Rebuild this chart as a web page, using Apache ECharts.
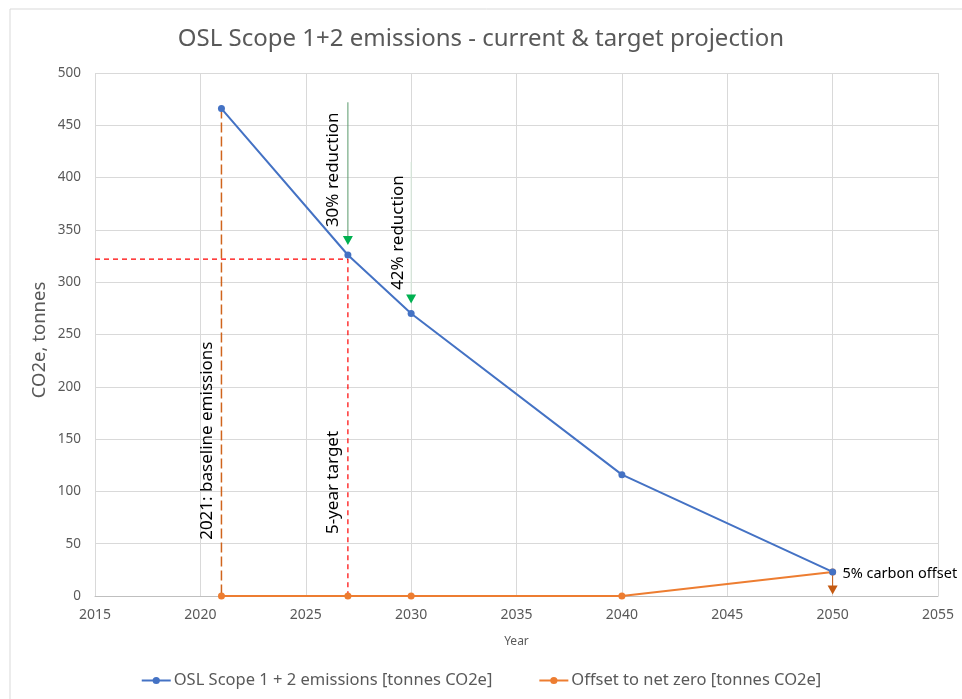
<!DOCTYPE html>
<html><head><meta charset="utf-8">
<script src="https://cdn.jsdelivr.net/npm/echarts@6/dist/echarts.min.js"></script>
<style>html,body{margin:0;padding:0;background:#fff}#c{width:962px;height:699px}</style>
</head><body><div id="c"></div>
<script>
const years = [2021, 2027, 2030, 2040, 2050];
const emissions = [466, 326, 270, 116, 23];
const offsetNetZero = [0, 0, 0, 0, 23];
const xTicks = [2015, 2020, 2025, 2030, 2035, 2040, 2045, 2050, 2055];
const yTicks = [0, 50, 100, 150, 200, 250, 300, 350, 400, 450, 500];
const baselineYear = 2021, baselineValue = 466;
const targetYear = 2027, targetValue = 322;

const F = "'Noto Sans', sans-serif";
const chart = echarts.init(document.getElementById('c'));
const txt = (coord, text, extra) => ({
  coord, symbolSize: 1, itemStyle: {color: 'rgba(0,0,0,0)'},
  label: Object.assign({show: true, formatter: text, color: '#000', fontFamily: F, fontSize: 17,
    position: 'inside', rotate: 90}, extra || {})
});
const head = (coord, color) => ({coord, symbol: 'triangle', symbolRotate: 180, symbolSize: [10, 9],
  symbolOffset: [0, -4], itemStyle: {color}, label: {show: false}});
const guide = (pts, lineStyle) => ({type: 'line', data: pts, symbol: 'none', silent: true, z: 1,
  lineStyle, tooltip: {show: false}});
chart.setOption({
  animation: false,
  textStyle: {fontFamily: F},
  title: {text: 'OSL Scope 1+2 emissions - current & target projection', left: 'center', top: 22,
    textStyle: {fontFamily: F, fontSize: 24, fontWeight: 'normal', color: '#595959'}},
  grid: {left: 95, right: 24, top: 73, bottom: 103, containLabel: false},
  xAxis: {type: 'value', min: xTicks[0], max: xTicks[xTicks.length-1], interval: 5,
    name: 'Year', nameLocation: 'middle', nameGap: 40, nameTextStyle: {fontSize: 12, color: '#595959', fontFamily: F},
    axisLine: {show: true, lineStyle: {color: '#bfbfbf'}}, axisTick: {show: false},
    axisLabel: {color: '#595959', fontSize: 14, margin: 12, fontFamily: F, formatter: v => String(v)},
    splitLine: {show: true, lineStyle: {color: '#d9d9d9'}}},
  yAxis: {type: 'value', min: yTicks[0], max: yTicks[yTicks.length-1], interval: 50,
    axisLine: {show: false}, axisTick: {show: false},
    axisLabel: {color: '#595959', fontSize: 13.5, margin: 14, fontFamily: F, formatter: v => String(v)},
    splitLine: {show: true, lineStyle: {color: '#d9d9d9'}}},
  legend: {bottom: 5, left: 'center', itemGap: 46, itemWidth: 29, itemHeight: 9,
    textStyle: {color: '#595959', fontSize: 16.5, fontFamily: F, padding: [0, 0, 0, -2]},
    data: ['OSL Scope 1 + 2 emissions [tonnes CO2e]', 'Offset to net zero [tonnes CO2e]']},
  graphic: [
    {type: 'rect', shape: {x: 10, y: 9, width: 960, height: 700}, style: {fill: 'none', stroke: '#d9d9d9', lineWidth: 1}, silent: true},
    {type: 'text', x: 40, y: 340, rotation: Math.PI/2, style: {text: 'CO2e, tonnes', fill: '#595959', font: '18.5px ' + F, align: 'center', verticalAlign: 'middle'}}
  ],
  series: [
    {name: 'OSL Scope 1 + 2 emissions [tonnes CO2e]', type: 'line', z: 3,
      data: years.map((y, i) => [y, emissions[i]]),
      symbol: 'circle', symbolSize: 7, lineStyle: {color: '#4472c4', width: 2}, itemStyle: {color: '#4472c4'},
      markPoint: {silent: true, animation: false, data: [
        head([targetYear, 336], '#00b050'),
        head([2030, 280], '#00b050'),
        head([2050, 2], '#c55a11'),
        txt([2026.29, 407], '30% reduction'),
        txt([2029.38, 347], '42% reduction'),
        txt([2020.31, 148], '2021: baseline emissions'),
        txt([2026.29, 108], '5-year target'),
        txt([2050.45, 21], '5% carbon offset', {rotate: 0, position: 'right', fontSize: 14.5, distance: 0})
      ]}
    },
    {name: 'Offset to net zero [tonnes CO2e]', type: 'line', z: 2,
      data: years.map((y, i) => [y, offsetNetZero[i]]),
      symbol: 'circle', symbolSize: 7, lineStyle: {color: '#ed7d31', width: 2}, itemStyle: {color: '#ed7d31'}},
    guide([[baselineYear, baselineValue], [baselineYear, 0]], {color: '#d0641c', width: 1.5, type: [10, 4]}),
    guide([[xTicks[0], targetValue], [targetYear, targetValue], [targetYear, 0]], {color: '#ff0000', width: 1.2, type: [5, 4]}),
    guide([[targetYear, 472], [targetYear, 338]], {color: '#5a9a6c', width: 1, type: 'solid'}),
    guide([[2030, 415], [2030, 282]], {color: '#d4e9d9', width: 1, type: 'solid'}),
    guide([[2050, 23], [2050, 4]], {color: '#c55a11', width: 1, type: 'solid'})
  ]
});
</script></body></html>
